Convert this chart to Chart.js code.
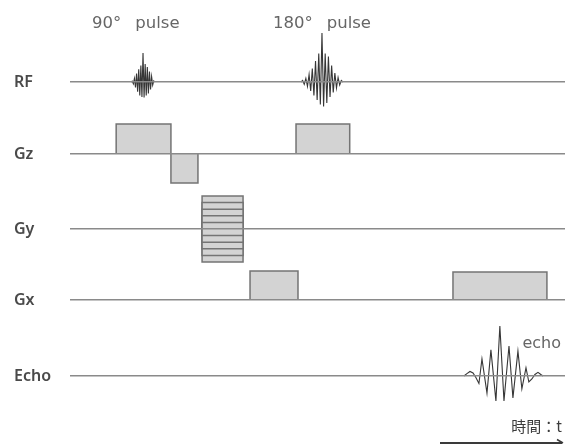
<!DOCTYPE html>
<html>
<head>
<meta charset="utf-8">
<script src="https://cdn.jsdelivr.net/npm/chart.js@4/dist/chart.umd.min.js"></script>
<style>
  html, body { margin: 0; padding: 0; background: #fff; }
  #wrap { width: 565px; height: 448px; }
</style>
</head>
<body>
<div id="wrap"><canvas id="seq"></canvas></div>
<script>
// Spin-echo pulse sequence: time axis in ms, 90° pulse at t = 0, TE = 20 ms.

// Channel rows, top to bottom
const channels = ['RF', 'Gz', 'Gy', 'Gx', 'Echo'];

// 90° excitation pulse: [time, amplitude]
const rf90 = [
  [-0.66, 0], [-0.60, 0.03], [-0.54, -0.06], [-0.48, 0.12], [-0.42, -0.18],
  [-0.36, 0.28], [-0.30, -0.32], [-0.24, 0.42], [-0.18, -0.45], [-0.12, 0.55],
  [-0.06, -0.50], [0.00, 0.97], [0.06, -0.52], [0.12, 0.60], [0.18, -0.45],
  [0.24, 0.50], [0.30, -0.38], [0.36, 0.35], [0.42, -0.25], [0.48, 0.18],
  [0.54, -0.10], [0.60, 0.04], [0.66, 0]
];

// 180° refocusing pulse: [time, amplitude]
const rf180 = [
  [8.83, 0], [8.92, 0.05], [9.01, -0.08], [9.10, 0.12], [9.19, -0.15],
  [9.28, 0.25], [9.37, -0.30], [9.46, 0.45], [9.55, -0.45], [9.64, 0.70],
  [9.73, -0.60], [9.82, 0.95], [9.91, -0.75], [10.00, 1.63], [10.09, -0.82],
  [10.18, 0.95], [10.27, -0.70], [10.36, 0.85], [10.45, -0.50], [10.54, 0.55],
  [10.63, -0.35], [10.72, 0.30], [10.81, -0.20], [10.90, 0.15], [10.99, -0.10],
  [11.08, 0.05], [11.17, 0]
];

// Slice-select gradient lobes: [start, end, amplitude]
const gzLobes = [[-1.50, 1.56, 1.0], [1.56, 3.07, -0.97], [8.55, 11.55, 1.0]];

// Phase-encoding window and its amplitude steps
const gyWindow = [3.30, 5.59];
const gyLevels = [0.22, -0.22, 0.44, -0.44, 0.66, -0.66, 0.88, -0.88, 1.10, -1.10];

// Read-out gradient lobes: dephase, then read-out around the echo
const gxLobes = [[5.98, 8.66, 0.97], [17.32, 22.57, 0.93]];

// Echo signal: [time, amplitude]
const echoSignal = [
  [17.93, 0], [18.10, 0.08], [18.27, 0.15], [18.44, 0.10], [18.60, -0.05],
  [18.77, -0.25], [18.94, 0.57], [19.22, -0.57], [19.44, 0.87], [19.72, -0.83],
  [19.94, 1.67], [20.17, -0.83], [20.45, 1.00], [20.67, -0.73], [20.95, 0.83],
  [21.17, -0.43], [21.40, 0.27], [21.56, -0.20], [21.73, -0.10], [21.90, 0.05],
  [22.07, 0.12], [22.23, 0.05], [22.35, 0]
];

// Pulse captions and the times they sit over
const pulseCaptions = ['90°', '180°'];
const captionTimes = [-0.4, 10.0];

// Value range of each row (unit = one full gradient lobe)
const rowRanges = {
  RF: [-1.233, 1.233],
  Gz: [-1.3, 1.167],
  Gy: [-1.267, 1.2],
  Gx: [-1.367, 1.1],
  Echo: [-1.3, 1.167]
};

const toXY = pts => pts.map(([x, y]) => ({ x, y }));
const lobePath = (t0, t1, a) => [
  { x: t0, y: 0 }, { x: t0, y: a }, { x: t1, y: a }, { x: t1, y: 0 }
];

const waveStyle = { borderColor: '#363636', borderWidth: 1.1, fill: false, clip: false };
const lobeStyle = { borderColor: '#747474', borderWidth: 1.5, backgroundColor: '#d3d3d3', fill: 'origin', clip: false };

const datasets = [
  { ...waveStyle, yAxisID: 'RF', data: toXY(rf90) },
  { ...waveStyle, yAxisID: 'RF', data: toXY(rf180) },
  { ...waveStyle, yAxisID: 'Echo', data: toXY(echoSignal) },
  ...gzLobes.map(([a, b, v]) => ({ ...lobeStyle, yAxisID: 'Gz', data: lobePath(a, b, v) })),
  ...gyLevels.map(v => ({ ...lobeStyle, yAxisID: 'Gy', data: lobePath(gyWindow[0], gyWindow[1], v) })),
  ...gxLobes.map(([a, b, v]) => ({ ...lobeStyle, yAxisID: 'Gx', data: lobePath(a, b, v) }))
];

const scales = {
  x: { type: 'linear', display: false, min: -4.08, max: 23.58 }
};
// left-hand stacked axes are laid out last-defined on top, so add them bottom-up
[...channels].reverse().forEach(name => {
  scales[name] = {
    type: 'linear',
    position: 'left',
    stack: 'sequence',
    stackWeight: 1,
    min: rowRanges[name][0],
    max: rowRanges[name][1],
    afterBuildTicks: s => { s.ticks = [{ value: 0 }]; },
    afterFit: s => { s.width = 56; },
    ticks: {
      callback: () => name,
      crossAlign: 'far',
      padding: 0,
      color: '#4a4a4a',
      font: { family: 'Noto Sans', size: 16, weight: '600' }
    },
    grid: { color: '#8a8a8a', lineWidth: 1.5, drawTicks: false, z: 1 },
    border: { display: false }
  };
});

// Captions above the pulses, the echo label and the time arrow
const annotations = {
  id: 'annotations',
  afterDraw(chart) {
    const { ctx, scales: sc } = chart;
    ctx.save();
    ctx.fillStyle = '#666';
    ctx.font = '16.5px "DejaVu Sans"';
    ctx.textBaseline = 'middle';
    pulseCaptions.forEach((c, i) => {
      const cx = sc.x.getPixelForValue(captionTimes[i]);
      const w1 = ctx.measureText(c).width;
      const w2 = ctx.measureText('pulse').width;
      const gap = 14;
      const left = cx - (w1 + gap + w2) / 2;
      ctx.textAlign = 'left';
      ctx.fillText(c, left, 24);
      ctx.fillText('pulse', left + w1 + gap, 24);
    });

    // echo label beside the signal
    ctx.font = '16px "DejaVu Sans"';
    ctx.fillText('echo', sc.x.getPixelForValue(21.2), sc.Echo.getPixelForValue(1.07));

    // time axis caption and arrow
    ctx.fillStyle = '#3c3c3c';
    ctx.font = '15px "Noto Sans CJK JP"';
    ctx.textAlign = 'right';
    ctx.fillText('時間：t', 562, 426);
    ctx.strokeStyle = '#3a3a3a';
    ctx.lineWidth = 2;
    ctx.beginPath();
    ctx.moveTo(440, 443);
    ctx.lineTo(562, 443);
    ctx.stroke();
    ctx.lineWidth = 1.5;
    ctx.beginPath();
    ctx.moveTo(557, 439.5);
    ctx.lineTo(563, 443);
    ctx.stroke();
    ctx.restore();
  }
};

new Chart(document.getElementById('seq'), {
  type: 'line',
  data: { datasets },
  options: {
    responsive: true,
    maintainAspectRatio: false,
    animation: false,
    layout: { padding: { left: 14, right: 0, top: 45, bottom: 33 } },
    elements: { point: { radius: 0 }, line: { tension: 0, borderJoinStyle: 'miter' } },
    plugins: { legend: { display: false }, tooltip: { enabled: false } },
    scales
  },
  plugins: [annotations]
});
</script>
</body>
</html>
